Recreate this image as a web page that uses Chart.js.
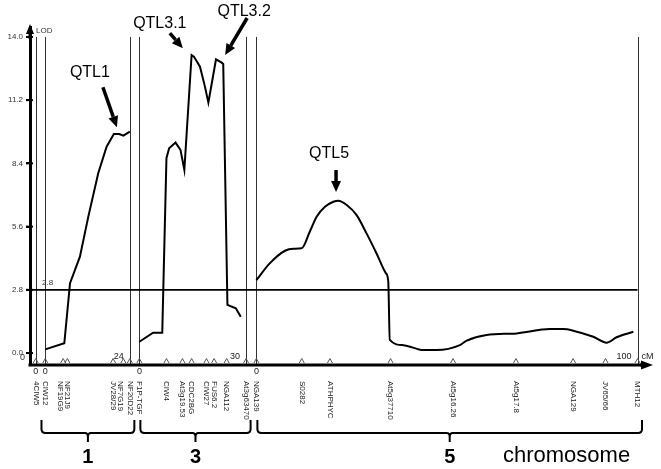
<!DOCTYPE html>
<html>
<head>
<meta charset="utf-8">
<title>QTL LOD profile</title>
<script src="https://cdn.jsdelivr.net/npm/chart.js@4.4.1/dist/chart.umd.min.js"></script>
<style>
  html, body { margin: 0; padding: 0; background: #fff; }
  #wrap { width: 661px; height: 469px; }
</style>
</head>
<body>
<div id="wrap"><canvas id="lodChart" width="661" height="469"></canvas></div>
<script>
// chromosomes laid side by side on one cM axis
const chromosomes = ['1', '3', '5'];
const chromOffset = [0, 24.7, 55.4];
const chromLength = [22.2, 28.0, 100];
const chromEndLabel = ['24', '30', '100'];

// markers, cM inside each chromosome
const chr1Markers = ['4CIW5', 'CIW12', 'NF19G9', 'NF21J9', 'JV28/29', 'NF7G19', 'NF20D22'];
const chr1MarkerPos = [-2.5, 0, 4.7, 5.8, 17.8, 20.5, 22.2];
const chr3Markers = ['F1P-TGF', 'CIW4', 'At3g19.53', 'CDC2BG', 'CIW27', 'FUS6.2', 'NGA112', 'At3g63470'];
const chr3MarkerPos = [0, 7.1, 11.3, 13.7, 17.6, 19.6, 22.9, 28.0];
const chr5Markers = ['NGA139', 'S0282', 'ATHPHYC', 'At5g37710', 'At5g16.26', 'At5g17.8', 'NGA129', 'JV65/66', 'MTH12'];
const chr5MarkerPos = [0, 11.9, 19.3, 35.2, 51.6, 68.1, 83.1, 91.6, 100];

// LOD profiles
const chr1Pos = [0, 5.0, 6.5, 9.1, 11.3, 13.9, 16.1, 18.0, 19.4, 20.5, 22.2];
const chr1Lod = [0.16, 0.43, 3.09, 4.27, 6.04, 7.96, 9.14, 9.70, 9.70, 9.63, 9.81];
const chr3Pos = [0, 3.6, 6.0, 7.1, 7.8, 9.5, 10.8, 11.8, 13.7, 14.3, 15.9, 17.2, 18.1, 19.0, 20.1, 21.6, 22.0, 23.1, 25.3, 26.6];
const chr3Lod = [0.50, 0.90, 0.90, 8.63, 9.07, 9.32, 8.99, 8.11, 13.20, 13.13, 12.68, 11.80, 11.09, 11.95, 13.01, 12.86, 12.80, 2.13, 1.98, 1.61];
const chr5Pos = [0, 3.5, 7.5, 9.7, 11.9, 14.0, 15.8, 18.0, 20.2, 21.5, 23.7, 26.3, 28.9, 31.5, 34.0, 34.6, 35.0, 38.5, 43.8, 47.3, 53.4, 55.2, 60.4, 68.3, 77.0, 80.5, 83.1, 88.4, 91.9, 94.5, 98.9];
const chr5Lod = [3.23, 3.97, 4.53, 4.62, 4.64, 5.37, 6.04, 6.48, 6.70, 6.75, 6.56, 6.11, 5.30, 4.42, 3.53, 3.16, 0.58, 0.35, 0.13, 0.13, 0.35, 0.55, 0.80, 0.87, 1.06, 1.06, 0.99, 0.72, 0.46, 0.70, 0.94];

const threshold = 2.8;
const yTicks = [0, 2.8, 5.6, 8.4, 11.2, 14.0];

// QTL peaks pointed at by arrows
const qtlLabels = ['QTL1', 'QTL3.1', 'QTL3.2', 'QTL5'];
const qtlChrom = [0, 1, 1, 2];
const qtlPos = [18.8, 11.4, 22.5, 20.9];
const qtlLod = [10.0, 13.5, 13.2, 7.13];

const xMin = -4.0, xMax = 159.2;
const yMin = -0.53, yMax = 14.44;
const family = "'Liberation Sans', Arial, sans-serif";

const markerNames = [chr1Markers, chr3Markers, chr5Markers];
const markerPos = [chr1MarkerPos, chr3MarkerPos, chr5MarkerPos];
const lodPos = [chr1Pos, chr3Pos, chr5Pos];
const lodVal = [chr1Lod, chr3Lod, chr5Lod];

const datasets = chromosomes.map((c, i) => ({
    label: 'chromosome ' + c,
    data: lodPos[i].map((p, j) => ({x: chromOffset[i] + p, y: lodVal[i][j]})),
    borderColor: '#000',
    borderWidth: 2,
    pointRadius: 0,
    fill: false,
    tension: 0,
    cubicInterpolationMode: i === 2 ? 'monotone' : 'default'
}));
datasets.push({
    label: 'threshold',
    data: [{x: xMin, y: threshold}, {x: chromOffset[2] + chromLength[2], y: threshold}],
    borderColor: '#000',
    borderWidth: 1.8,
    pointRadius: 0
});

function arrow(ctx, x0, y0, x1, y1, w, head, half) {
    const a = Math.atan2(y1 - y0, x1 - x0);
    const bx = x1 - head * Math.cos(a), by = y1 - head * Math.sin(a);
    ctx.lineWidth = w;
    ctx.beginPath(); ctx.moveTo(x0, y0); ctx.lineTo(bx, by); ctx.stroke();
    ctx.beginPath();
    ctx.moveTo(x1, y1);
    ctx.lineTo(bx + half * Math.sin(a), by - half * Math.cos(a));
    ctx.lineTo(bx - half * Math.sin(a), by + half * Math.cos(a));
    ctx.closePath(); ctx.fill();
}

const mapOverlay = {
    id: 'mapOverlay',
    beforeDatasetsDraw(chart) {
        const {ctx, chartArea, scales: {x, y}} = chart;
        ctx.save();
        ctx.strokeStyle = '#333';
        ctx.lineWidth = 1;
        chromosomes.forEach((c, i) => {
            new Set([markerPos[i][0], 0, chromLength[i]]).forEach(p => {
                const px = Math.round(x.getPixelForValue(chromOffset[i] + p)) + 0.5;
                ctx.beginPath();
                ctx.moveTo(px, y.getPixelForValue(14));
                ctx.lineTo(px, chartArea.bottom);
                ctx.stroke();
            });
        });
        ctx.restore();
    },
    afterDraw(chart) {
        const {ctx, chartArea, scales: {x, y}} = chart;
        const bottom = chartArea.bottom;
        ctx.save();
        ctx.fillStyle = '#000';
        ctx.strokeStyle = '#000';

        // axes with arrow heads
        ctx.lineWidth = 3;
        ctx.beginPath();
        ctx.moveTo(chartArea.left - 1.5, bottom);
        ctx.lineTo(chartArea.right - 8, bottom);
        ctx.stroke();
        arrow(ctx, chartArea.right - 12, bottom, chartArea.right + 1, bottom, 3, 12, 4.5);
        arrow(ctx, chartArea.left, chartArea.top + 12, chartArea.left, chartArea.top - 3, 3, 10, 4);
        // tick marks run across the y axis
        ctx.lineWidth = 2;
        yTicks.forEach(v => {
            const py = y.getPixelForValue(v);
            ctx.beginPath(); ctx.moveTo(chartArea.left - 4, py); ctx.lineTo(chartArea.left + 3, py); ctx.stroke();
        });

        // markers: triangles and names
        chromosomes.forEach((c, i) => {
            let lastLabel = -100;
            markerPos[i].forEach((p, j) => {
                const px = x.getPixelForValue(chromOffset[i] + p);
                ctx.strokeStyle = '#555';
                ctx.lineWidth = 1;
                ctx.beginPath();
                ctx.moveTo(px - 2.5, bottom - 2);
                ctx.lineTo(px, bottom - 6.5);
                ctx.lineTo(px + 2.5, bottom - 2);
                ctx.stroke();

                // keep neighbouring names from sitting on top of each other
                let lx = px;
                const next = markerPos[i][j + 1];
                if (next !== undefined && x.getPixelForValue(chromOffset[i] + next) - px < 7) lx = px - 3;
                if (lx - lastLabel < 7) lx = lastLabel + 7;
                lastLabel = lx;

                ctx.save();
                ctx.translate(lx, 381);
                ctx.rotate(Math.PI / 2);
                ctx.fillStyle = '#222';
                ctx.font = '8px ' + family;
                ctx.textAlign = 'left';
                ctx.textBaseline = 'middle';
                ctx.fillText(markerNames[i][j], 0, 0);
                ctx.restore();
            });

            // 0 under start lines, length label near end
            ctx.fillStyle = '#222';
            ctx.font = '9px ' + family;
            ctx.textBaseline = 'middle';
            ctx.textAlign = 'center';
            new Set([markerPos[i][0], 0]).forEach(p => {
                ctx.fillText('0', x.getPixelForValue(chromOffset[i] + p), bottom + 7);
            });
            const endPx = x.getPixelForValue(chromOffset[i] + chromLength[i]);
            ctx.textAlign = 'right';
            ctx.fillText(chromEndLabel[i], endPx - 6, bottom - 8);
            if (i === chromosomes.length - 1) {
                ctx.textAlign = 'left';
                ctx.fillText('cM', endPx + 4, bottom - 8);
            }

            // bracket and chromosome number
            const startPx = (x.getPixelForValue(chromOffset[i] + markerPos[i][0]) + x.getPixelForValue(chromOffset[i])) / 2;
            const bx0 = startPx + 1;
            const bx1 = endPx + 4.5;
            const mid = (bx0 + bx1) / 2;
            const by = 433;
            ctx.strokeStyle = '#000';
            ctx.lineWidth = 2;
            ctx.beginPath();
            ctx.moveTo(bx0, 420);
            ctx.lineTo(bx0, by - 4);
            ctx.quadraticCurveTo(bx0, by, bx0 + 4, by);
            ctx.lineTo(mid - 3, by);
            ctx.quadraticCurveTo(mid, by, mid, by + 4);
            ctx.lineTo(mid, by + 9);
            ctx.moveTo(mid, by + 4);
            ctx.quadraticCurveTo(mid, by, mid + 3, by);
            ctx.lineTo(bx1 - 4, by);
            ctx.quadraticCurveTo(bx1, by, bx1, by - 4);
            ctx.lineTo(bx1, 420);
            ctx.stroke();

            ctx.fillStyle = '#000';
            ctx.font = 'bold 20px ' + family;
            ctx.textAlign = 'center';
            ctx.fillText(c, mid, 457);
        });

        ctx.fillStyle = '#000';
        ctx.font = '22px ' + family;
        ctx.textAlign = 'left';
        ctx.textBaseline = 'middle';
        ctx.fillText('chromosome', 503, 456);

        // small axis texts
        ctx.fillStyle = '#333';
        ctx.font = '8px ' + family;
        ctx.fillText('LOD', chartArea.left + 6, chartArea.top + 4);
        ctx.fillText('2.8', chartArea.left + 12, y.getPixelForValue(threshold) - 7);
        ctx.font = '9px ' + family;
        ctx.fillText('0', chartArea.left - 10, y.getPixelForValue(0) + 4);

        // QTL arrows
        const qtlLayout = [[-14, -40, -27, -55], [-13, -15, -23, -25], [22, -37, 19, -43], [0, -22, -7, -38]];
        ctx.fillStyle = '#000';
        ctx.strokeStyle = '#000';
        ctx.font = '16px ' + family;
        ctx.textAlign = 'center';
        qtlLabels.forEach((lab, k) => {
            const tx = x.getPixelForValue(chromOffset[qtlChrom[k]] + qtlPos[k]);
            const ty = y.getPixelForValue(qtlLod[k]);
            const [dx, dy, lx, ly] = qtlLayout[k];
            arrow(ctx, tx + dx, ty + dy, tx, ty, 3.5, 11, 5);
            ctx.fillText(lab, tx + lx, ty + ly);
        });
        ctx.restore();
    }
};

new Chart(document.getElementById('lodChart').getContext('2d'), {
    type: 'line',
    data: {datasets: datasets},
    options: {
        responsive: false,
        animation: false,
        devicePixelRatio: 1,
        layout: {padding: {left: 0, top: 27, right: 9, bottom: 104}},
        plugins: {legend: {display: false}, tooltip: {enabled: false}},
        scales: {
            x: {type: 'linear', min: xMin, max: xMax, display: false},
            y: {
                min: yMin,
                max: yMax,
                afterFit: function(s) { s.width = 30; },
                afterBuildTicks: function(s) { s.ticks = yTicks.map(v => ({value: v})); },
                ticks: {
                    callback: v => v.toFixed(1),
                    font: {size: 8, family: family},
                    color: '#333',
                    padding: 3
                },
                grid: {drawOnChartArea: false, tickLength: 4, color: '#000', lineWidth: 2},
                border: {color: '#000', width: 3}
            }
        }
    },
    plugins: [mapOverlay]
});
</script>
</body>
</html>
